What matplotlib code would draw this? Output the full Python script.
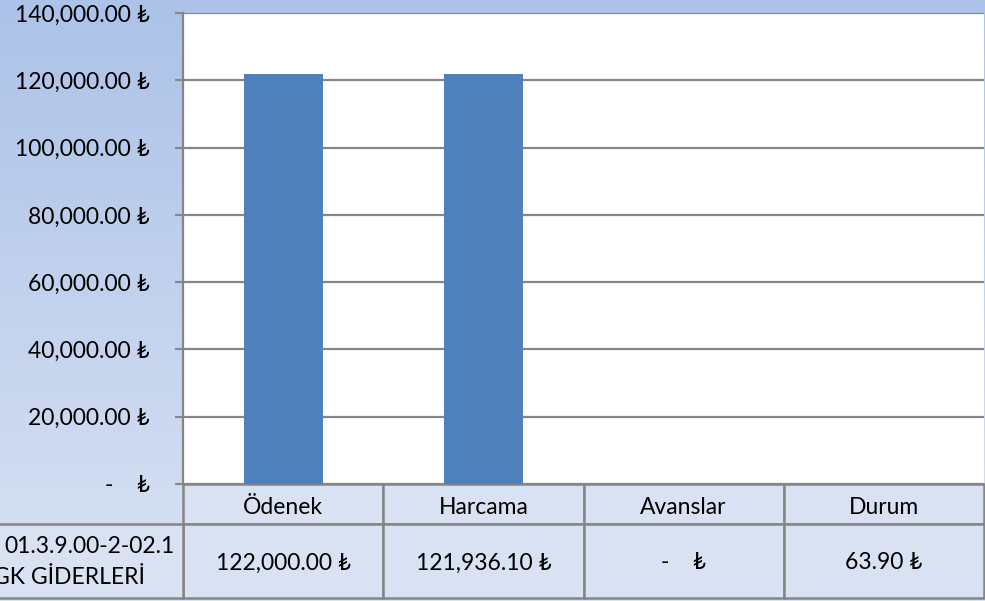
import numpy as np
import matplotlib.pyplot as plt
from matplotlib.patches import Rectangle
from matplotlib.colors import LinearSegmentedColormap
import matplotlib.transforms as mtransforms

plt.rcParams['font.family'] = ['Lato', 'DejaVu Sans']

categories = ['Ödenek', 'Harcama', 'Avanslar', 'Durum']
values = [122000.00, 121936.10, 0.0, 63.90]
row_label = ['01.3.9.00-2-02.1', 'GK GİDERLERİ']
yticks = [0, 20000, 40000, 60000, 80000, 100000, 120000, 140000]


def tl(v):
    if v == 0:
        return '-    ₺'
    return f'{v:,.2f} ₺'


fs = 16.5
fig = plt.figure(figsize=(9.85, 6.01), dpi=100)

# background gradient
bg = fig.add_axes([0, 0, 1, 1], zorder=-10)
cmap = LinearSegmentedColormap.from_list('bg', ['#d9e2f3', '#acc2e8'])
bg.imshow(np.linspace(0, 1, 256).reshape(-1, 1), aspect='auto', cmap=cmap,
          origin='lower', extent=[0, 1, 0, 1])
bg.axis('off')

ax = fig.add_axes([183/985, 117/601, 801/985, 471/601])
ax.set_facecolor('white')
x = np.arange(len(categories))
ax.bar(x, values, width=0.395, color='#4f81bd', zorder=3)
ax.set_xlim(-0.5, 3.5)
ax.set_ylim(0, 140000)
ax.set_yticks(yticks)
ax.set_yticklabels([tl(v) for v in yticks], fontsize=fs)
ax.set_xticks([])
ax.yaxis.grid(True, color='#868686', linewidth=1.6)
ax.set_axisbelow(True)
ax.tick_params(axis='y', length=6, width=1.5, color='#868686', pad=18)
for s in ['top', 'right', 'bottom']:
    ax.spines[s].set_visible(False)
ax.spines['left'].set_color('#868686')
ax.spines['left'].set_linewidth(1.6)

# data table under the plot
tr = mtransforms.blended_transform_factory(ax.transData, ax.transAxes)
h1 = 40/471
h2 = 114/471
cell_fc = '#d9e2f3'
ec = '#868686'
for i, c in enumerate(categories):
    ax.add_patch(Rectangle((i - 0.5, -h1), 1, h1, transform=tr, clip_on=False,
                           facecolor=cell_fc, edgecolor=ec, linewidth=1.8))
    ax.add_patch(Rectangle((i - 0.5, -h2), 1, h2 - h1, transform=tr, clip_on=False,
                           facecolor=cell_fc, edgecolor=ec, linewidth=1.8))
    ax.text(i, -h1/2 - 0.007, c, transform=tr, ha='center', va='center', fontsize=fs)
    ax.text(i, -(h1 + h2)/2 - 0.004, tl(values[i]), transform=tr, ha='center',
            va='center', fontsize=fs)
ax.add_patch(Rectangle((-1.5, -h2), 1.0, h2 - h1, transform=tr, clip_on=False,
                       facecolor=cell_fc, edgecolor=ec, linewidth=1.8))
ax.text(-0.54, -h1 - (h2 - h1)*0.3, row_label[0], transform=tr, ha='right',
        va='center', fontsize=fs)
ax.text(-0.69, -h1 - (h2 - h1)*0.72, row_label[1], transform=tr, ha='right',
        va='center', fontsize=fs)

fig.savefig('out.png', dpi=100)
